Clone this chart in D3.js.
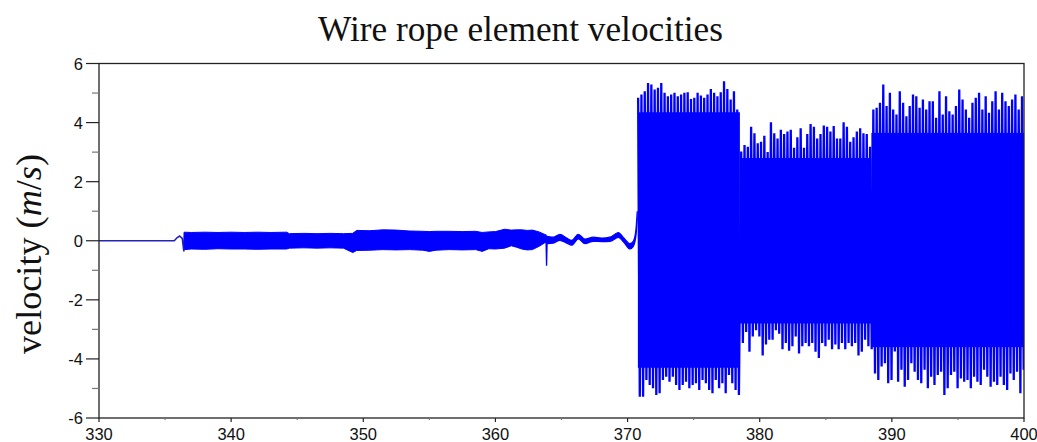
<!DOCTYPE html>
<meta charset="utf-8">
<script src="https://d3js.org/d3.v7.min.js"></script>
<style>
  body { margin: 0; background: #fff; }
  .tick-label { font-family: "Liberation Sans", Arial, sans-serif; font-size: 16.5px; fill: #111; }
  .tex { font-family: "Liberation Serif", "Times New Roman", serif; fill: #111; }
</style>
<body>
<div id="viz"></div>
<script>
// ---- data ----
// quiet start and the small kick before the first band
const leadT = [330, 335.7, 335.9, 336.1, 336.3, 336.42, 336.47];
const leadV = [0, 0, 0.1, 0.16, 0.08, -0.36, 0.28];

// low amplitude band (envelope of the fast oscillation)
const bandT  = [336.45, 337.0, 338.0, 339.0, 340.0, 341.0, 342.0, 343.0, 344.2, 344.4, 345.5, 346.5, 347.5, 348.5, 349.2, 349.5, 350.5, 351.5, 352.5, 353.5, 354.5, 355.0, 355.5, 356.5, 357.5, 358.5, 359.0, 359.5, 360.0, 360.7, 361.2, 361.6, 362.0, 362.4, 362.8, 363.3, 363.7, 363.82];
const bandHi = [0.29, 0.28, 0.29, 0.28, 0.29, 0.28, 0.29, 0.28, 0.29, 0.24, 0.25, 0.24, 0.25, 0.24, 0.25, 0.35, 0.34, 0.37, 0.36, 0.33, 0.32, 0.31, 0.32, 0.32, 0.31, 0.32, 0.28, 0.30, 0.31, 0.39, 0.36, 0.37, 0.37, 0.35, 0.36, 0.30, 0.22, 0.20];
const bandLo = [-0.30, -0.28, -0.29, -0.27, -0.28, -0.28, -0.29, -0.28, -0.28, -0.25, -0.24, -0.25, -0.24, -0.25, -0.40, -0.33, -0.32, -0.30, -0.31, -0.30, -0.32, -0.36, -0.32, -0.30, -0.31, -0.30, -0.36, -0.27, -0.28, -0.25, -0.17, -0.22, -0.28, -0.31, -0.30, -0.19, -0.08, -0.05];

// single dip at ~364
const dipT = [363.82, 363.87, 363.92];
const dipV = [0.2, -0.85, 0.15];

// slow wave before the burst
const waveT  = [363.92, 364.38, 364.88, 365.39, 365.77, 366.27, 366.78, 367.41, 368.04, 368.67, 369.3, 369.73, 370.18, 370.43, 370.63, 370.73];
const waveHi = [0.15, 0.12, 0.22, 0.09, 0.01, 0.22, 0.06, 0.12, 0.09, 0.12, 0.28, 0.09, -0.10, -0.02, 0.37, 1.0];
const waveLo = [-0.10, -0.08, 0.01, -0.08, -0.15, 0.06, -0.10, -0.02, -0.03, -0.02, 0.11, -0.06, -0.28, -0.19, 0.15, 0.71];

// large oscillation: peaks / troughs of the visible spikes, one pair every burstStep
const burstStart = [370.8, 378.6, 388.6];
const burstStep = 0.25;
const hi1 = [4.84, 4.95, 5.06, 5.34, 5.29, 5.12, 5.18, 5.34, 5.01, 4.89, 4.95, 5.01, 4.89, 4.95, 5.01, 5.03, 4.80, 4.84, 5.01, 4.92, 4.84, 4.95, 5.14, 5.01, 4.89, 5.03, 5.40, 5.14, 4.78, 5.06, 4.44];
const lo1 = [-5.28, -5.28, -4.71, -4.88, -4.99, -5.22, -5.16, -4.71, -4.60, -4.77, -4.60, -4.88, -5.05, -4.88, -4.77, -4.99, -4.88, -4.82, -5.05, -4.71, -4.82, -5.05, -5.16, -4.71, -4.99, -4.82, -5.16, -4.54, -4.82, -5.05, -5.22];
const hi2 = [3.02, 3.24, 3.18, 3.86, 3.64, 3.30, 3.35, 3.55, 3.00, 4.01, 3.64, 3.46, 3.76, 3.61, 3.70, 3.76, 3.15, 3.50, 3.81, 3.15, 3.61, 3.95, 3.86, 3.46, 3.61, 3.90, 3.86, 3.70, 3.88, 3.46, 3.46, 4.01, 3.86, 3.35, 3.50, 3.70, 3.81, 3.64, 3.61, 3.18];
const lo2 = [-3.46, -3.09, -3.76, -3.24, -3.03, -3.24, -3.88, -3.51, -3.35, -3.35, -3.03, -3.15, -3.67, -3.46, -3.72, -3.57, -3.24, -3.82, -3.57, -3.46, -3.57, -3.46, -3.76, -3.97, -3.46, -3.57, -3.35, -3.67, -3.51, -3.67, -3.46, -3.67, -3.46, -3.57, -3.46, -3.88, -3.76, -3.35, -3.57, -3.67];
const hi3 = [4.44, 4.50, 4.67, 5.29, 4.56, 5.01, 4.44, 4.27, 5.06, 4.67, 4.21, 4.56, 4.95, 4.89, 4.50, 4.78, 4.44, 4.72, 4.72, 4.16, 5.06, 4.27, 4.89, 4.38, 4.27, 4.56, 5.12, 4.78, 4.44, 4.16, 4.67, 4.84, 5.01, 4.44, 4.89, 4.33, 4.72, 5.06, 4.44, 5.01, 4.72, 4.56, 4.78, 4.95, 4.44, 4.89];
const lo3 = [-4.49, -4.71, -4.26, -4.15, -4.82, -4.71, -3.75, -4.77, -4.37, -4.94, -4.71, -4.15, -4.43, -4.71, -4.82, -4.37, -4.99, -4.60, -4.88, -4.54, -4.43, -5.22, -4.99, -4.54, -4.43, -4.99, -4.66, -4.77, -4.71, -4.99, -4.60, -4.77, -4.88, -4.37, -4.60, -4.94, -4.77, -4.88, -4.60, -4.88, -5.05, -4.49, -4.71, -4.43, -5.16, -4.37];

// solid core of each burst block (where the trace fills every pixel)
const coreStart = [370.78, 378.5, 388.45];
const coreEnd   = [378.5, 388.45, 400];
const coreTop   = [4.35, 2.8, 3.65];
const coreBot   = [-4.3, -2.8, -3.6];

// axes
const xTicks = [330, 340, 350, 360, 370, 380, 390, 400];
const xMinor = [335, 345, 355, 365, 375, 385, 395];
const yTicks = [-6, -4, -2, 0, 2, 4, 6];
const yMinor = [-5, -3, -1, 1, 3, 5];

// ---- layout ----
const W = 1037, H = 442;
const margin = {left: 99, right: 1024, top: 63.5, bottom: 418};
const blue = "#0000ff";

const svg = d3.select("#viz").append("svg")
  .attr("width", W).attr("height", H);

const x = d3.scaleLinear().domain([330, 400]).range([margin.left, margin.right]);
const y = d3.scaleLinear().domain([-6, 6]).range([margin.bottom, margin.top]);

svg.append("defs").append("clipPath").attr("id", "clip")
  .append("rect")
    .attr("x", margin.left).attr("y", margin.top)
    .attr("width", margin.right - margin.left).attr("height", margin.bottom - margin.top);

const plot = svg.append("g").attr("clip-path", "url(#clip)");

// lead line
plot.append("path")
  .datum(d3.zip(leadT, leadV))
  .attr("fill", "none")
  .attr("stroke", "#2424b8")
  .attr("stroke-width", 1.6)
  .attr("d", d3.line().x(d => x(d[0])).y(d => y(d[1])));

// small band
plot.append("path")
  .datum(d3.zip(bandT, bandHi, bandLo))
  .attr("fill", blue)
  .attr("stroke", blue)
  .attr("stroke-width", 1)
  .attr("d", d3.area().x(d => x(d[0])).y0(d => y(d[2])).y1(d => y(d[1])));

// dip
plot.append("path")
  .datum(d3.zip(dipT, dipV))
  .attr("fill", "none")
  .attr("stroke", blue)
  .attr("stroke-width", 1.3)
  .attr("d", d3.line().x(d => x(d[0])).y(d => y(d[1])));

// slow wave
plot.append("path")
  .datum(d3.zip(waveT, waveHi, waveLo))
  .attr("fill", blue)
  .attr("stroke", blue)
  .attr("stroke-width", 1.2)
  .attr("d", d3.area().curve(d3.curveMonotoneX)
    .x(d => x(d[0])).y0(d => y(d[2])).y1(d => y(d[1])));

// burst cores
plot.selectAll("rect.core")
  .data(d3.range(coreStart.length))
  .join("rect")
    .attr("class", "core")
    .attr("x", i => x(coreStart[i]))
    .attr("width", i => x(coreEnd[i]) - x(coreStart[i]))
    .attr("y", i => y(coreTop[i]))
    .attr("height", i => y(coreBot[i]) - y(coreTop[i]))
    .attr("fill", blue);

// burst spikes as one zigzag trace
const his = [hi1, hi2, hi3], los = [lo1, lo2, lo3];
const zig = [];
his.forEach((hs, b) => {
  hs.forEach((h, i) => {
    const t = burstStart[b] + i * burstStep;
    zig.push([t, h]);
    zig.push([t + burstStep / 2, los[b][i]]);
  });
});
plot.append("path")
  .datum(zig)
  .attr("fill", "none")
  .attr("stroke", blue)
  .attr("stroke-width", 2.3)
  .attr("stroke-linejoin", "bevel")
  .attr("d", d3.line().x(d => x(d[0])).y(d => y(d[1])));

// ---- frame and ticks ----
const axisCol = "#222";
svg.append("rect")
  .attr("x", margin.left).attr("y", margin.top)
  .attr("width", margin.right - margin.left).attr("height", margin.bottom - margin.top)
  .attr("fill", "none").attr("stroke", axisCol).attr("stroke-width", 1.3);

svg.selectAll("line.ymaj").data(yTicks).join("line")
  .attr("x1", margin.left - 13).attr("x2", margin.left)
  .attr("y1", d => y(d)).attr("y2", d => y(d))
  .attr("stroke", axisCol).attr("stroke-width", 1.2);
svg.selectAll("line.ymin").data(yMinor).join("line")
  .attr("x1", margin.left - 7).attr("x2", margin.left)
  .attr("y1", d => y(d)).attr("y2", d => y(d))
  .attr("stroke", "#777").attr("stroke-width", 1.2);

svg.selectAll("line.xmaj").data(xTicks).join("line")
  .attr("x1", d => x(d)).attr("x2", d => x(d))
  .attr("y1", margin.bottom).attr("y2", margin.bottom + 4)
  .attr("stroke", axisCol).attr("stroke-width", 1.2);
svg.selectAll("line.xmin").data(xMinor).join("line")
  .attr("x1", d => x(d)).attr("x2", d => x(d))
  .attr("y1", margin.bottom).attr("y2", margin.bottom + 2)
  .attr("stroke", "#777").attr("stroke-width", 1.2);

svg.selectAll("text.yl").data(yTicks).join("text")
  .attr("class", "tick-label")
  .attr("x", margin.left - 16).attr("y", d => y(d))
  .attr("text-anchor", "end")
  .attr("dominant-baseline", "central")
  .text(d => d);

svg.selectAll("text.xl").data(xTicks).join("text")
  .attr("class", "tick-label")
  .attr("x", d => x(d)).attr("y", 440)
  .attr("text-anchor", "middle")
  .text(d => d);

// ---- title and y label ----
const title = svg.append("text")
  .attr("class", "tex")
  .attr("x", 520.5).attr("y", 41)
  .attr("text-anchor", "middle")
  .style("font-size", "32px")
  .text("Wire rope element velocities");
const tw = title.node().getComputedTextLength();
title.style("font-size", (32 * 405 / tw) + "px");

const yl = svg.append("text")
  .attr("class", "tex")
  .attr("text-anchor", "middle")
  .attr("transform", "translate(41,254) rotate(-90)")
  .style("font-size", "32px");
yl.append("tspan").text("velocity (");
yl.append("tspan").style("font-style", "italic").text("m");
yl.append("tspan").text("/");
yl.append("tspan").style("font-style", "italic").text("s");
yl.append("tspan").text(")");
const lw = yl.node().getComputedTextLength();
yl.style("font-size", (32 * 200 / lw) + "px");
</script>
</body>
